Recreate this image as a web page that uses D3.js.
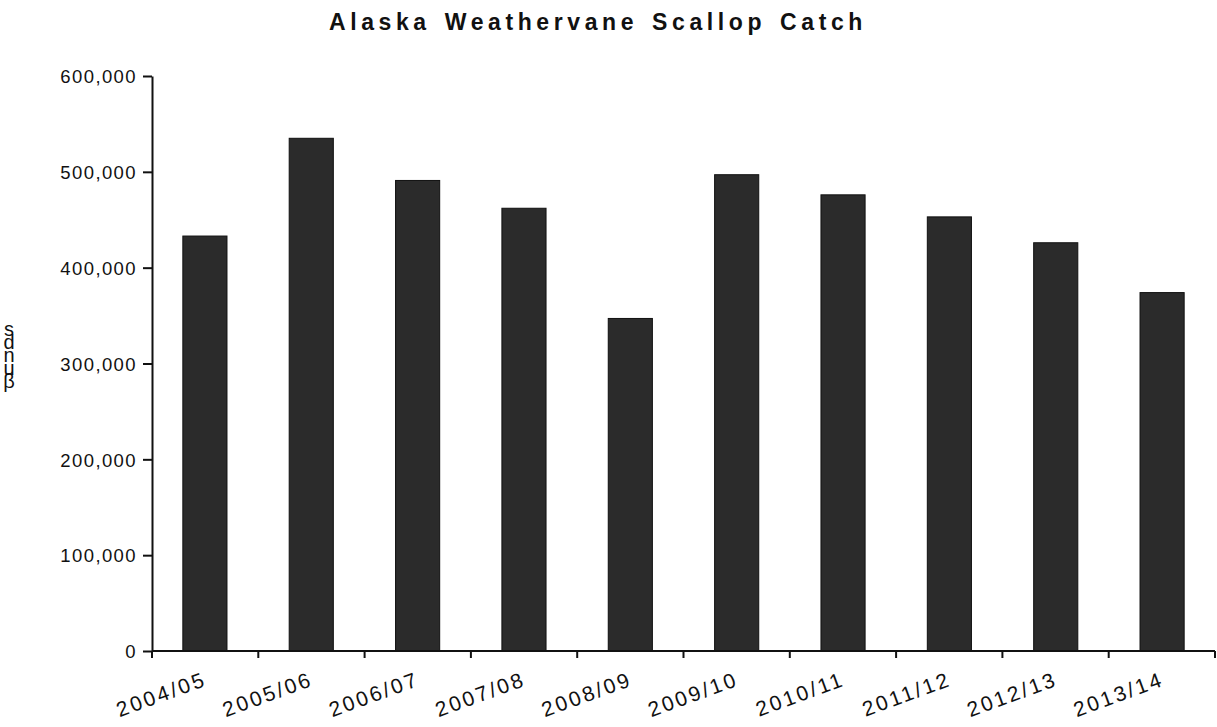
<!DOCTYPE html>
<html>
  <head>
    <style>
      body {
        margin: 0;
        background: #fff;
      }
      text {
        font-family: "Liberation Sans", Arial, sans-serif;
        fill: #111;
      }
      .bar {
        fill: #2b2b2b;
        stroke: #111;
        stroke-width: 1px;
      }
      .axis path, .axis line {
        stroke: #111;
        stroke-width: 2px;
      }
    </style>
  </head>
  <body>
    <script src="https://d3js.org/d3.v7.min.js"></script>
    <script>
      const seasons = ["2004/05", "2005/06", "2006/07", "2007/08", "2008/09",
                       "2009/10", "2010/11", "2011/12", "2012/13", "2013/14"];
      const catchLbs = [433000, 535000, 491000, 462000, 347000,
                        497000, 476000, 453000, 426000, 374000];
      const yTicks = [0, 100000, 200000, 300000, 400000, 500000, 600000];
      const yLabelLetters = ["s", "d", "n", "u", "β"];

      const width = 1217, height = 727,
          margin = {left: 152, right: 2, top: 76, bottom: 76};

      const svg = d3.select("body").append("svg")
          .attr("width", width)
          .attr("height", height);

      const x = d3.scaleBand()
          .domain(seasons)
          .range([margin.left, width - margin.right])
          .paddingInner(0.585)
          .paddingOuter(0.29);

      // band for ticks (category boundaries)
      const xEdge = d3.scaleBand()
          .domain(seasons)
          .range([margin.left, width - margin.right]);

      const y = d3.scaleLinear()
          .domain([0, 600000])
          .range([height - margin.bottom, margin.top]);

      svg.append("text")
          .attr("x", 598)
          .attr("y", 30)
          .attr("text-anchor", "middle")
          .style("font-size", "23px")
          .style("font-weight", "bold")
          .style("letter-spacing", "4.6px")
          .style("word-spacing", "3px")
          .text("Alaska Weathervane Scallop Catch");

      // bars
      svg.selectAll(".bar")
          .data(seasons)
          .enter().append("rect")
          .attr("class", "bar")
          .attr("x", d => x(d))
          .attr("width", x.bandwidth())
          .attr("y", (d, i) => y(catchLbs[i]))
          .attr("height", (d, i) => y(0) - y(catchLbs[i]));

      // y axis
      const yAxis = svg.append("g")
          .attr("class", "axis")
          .attr("transform", `translate(${margin.left},0)`)
          .call(d3.axisLeft(y).tickValues(yTicks).tickSize(9).tickSizeOuter(0)
              .tickFormat(d3.format(",")));
      yAxis.selectAll("text")
          .attr("x", -15)
          .attr("dy", "0.36em")
          .style("font-size", "18.5px")
          .style("letter-spacing", "1.4px");

      // x axis
      const xAxis = svg.append("g")
          .attr("class", "axis")
          .attr("transform", `translate(0,${y(0)})`);
      xAxis.append("line")
          .attr("x1", margin.left)
          .attr("x2", width - margin.right)
          .attr("y1", 0).attr("y2", 0);
      xAxis.selectAll(".tick")
          .data(seasons.concat(["end"]))
          .enter().append("line")
          .attr("class", "tick")
          .attr("x1", d => d === "end" ? width - margin.right : xEdge(d))
          .attr("x2", d => d === "end" ? width - margin.right : xEdge(d))
          .attr("y1", 0).attr("y2", 7);
      xAxis.selectAll(".xlabel")
          .data(seasons)
          .enter().append("text")
          .attr("class", "xlabel")
          .attr("text-anchor", "end")
          .attr("transform", d => `translate(${x(d) + x.bandwidth() / 2 + 3},${34}) rotate(-20)`)
          .style("font-size", "21px")
          .style("letter-spacing", "2.6px")
          .text(d => d);

      // garbled y axis title
      svg.append("text")
          .attr("x", 9)
          .attr("y", 336)
          .attr("text-anchor", "middle")
          .style("font-size", "20px")
          .selectAll("tspan")
          .data(yLabelLetters)
          .enter().append("tspan")
          .attr("x", 9)
          .attr("dy", (d, i) => i === 0 ? 0 : 13)
          .text(d => d);
    </script>
  </body>
</html>
